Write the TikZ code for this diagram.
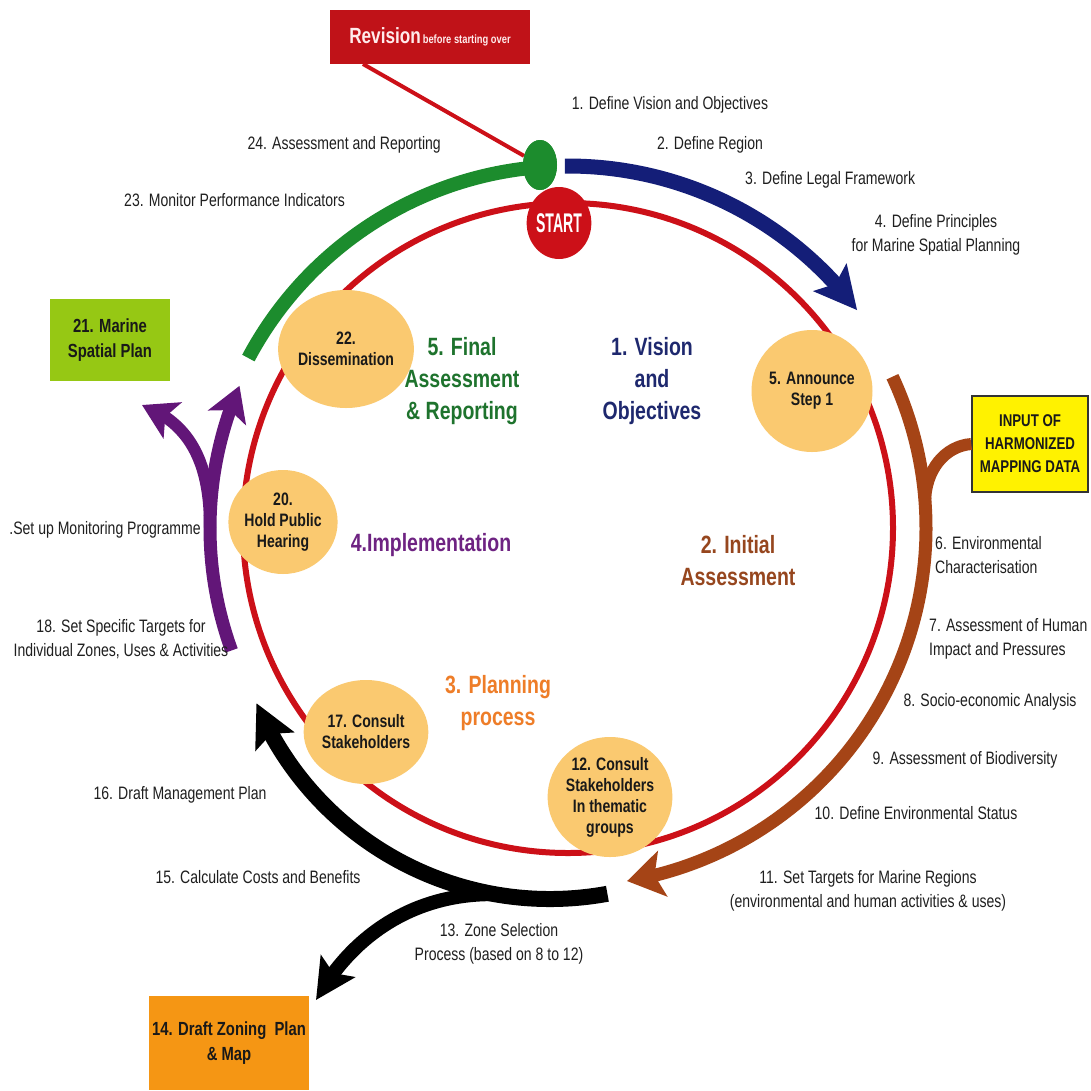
\documentclass[tikz,border=0pt]{standalone}
\usepackage{fontspec}
\setmainfont{Liberation Sans}
\newfontfamily\nar[FakeStretch=0.78]{Liberation Sans}
\usetikzlibrary{shapes.geometric,arrows.meta,bending}
\definecolor{ringred}{RGB}{204,16,24}
\definecolor{revred}{RGB}{192,18,24}
\definecolor{navy}{RGB}{20,30,120}
\definecolor{arcgreen}{RGB}{28,140,45}
\definecolor{brownarc}{RGB}{165,68,22}
\definecolor{purp}{RGB}{98,22,120}
\definecolor{bub}{RGB}{250,201,112}
\definecolor{boxgreen}{RGB}{150,200,20}
\definecolor{boxyellow}{RGB}{255,242,0}
\definecolor{boxorange}{RGB}{245,150,20}
\definecolor{hnavy}{RGB}{30,40,110}
\definecolor{hgreen}{RGB}{30,115,45}
\definecolor{hbrown}{RGB}{150,70,30}
\definecolor{hpurple}{RGB}{110,35,130}
\definecolor{horange}{RGB}{238,125,40}
\begin{document}
\begin{tikzpicture}[x=1pt,y=-1pt,
  lab/.style={font=\nar\fontsize{18}{24}\selectfont, text=black!88, align=center, inner sep=0pt},
  headline/.style={font=\nar\bfseries\fontsize{25}{32}\selectfont, align=center, inner sep=0pt},
  bubble/.style={ellipse, fill=bub, minimum width=110pt, minimum height=116pt, inner sep=0pt, align=center, font=\nar\bfseries\fontsize{18}{21}\selectfont, text=black!90},
  tagbox/.style={rectangle, inner sep=0pt, align=center, font=\nar\bfseries\fontsize{19}{25}\selectfont, text=black!90},
  ring/.style={ringred, line width=6pt},
  bigtip/.style={-{Stealth[length=42pt,width=42pt,inset=8pt]}},
  midtip/.style={-{Stealth[length=34pt,width=40pt,inset=8pt]}},
]
\fill[white] (0,0) rectangle (1091,1090);
\useasboundingbox (0,0) rectangle (1091,1090);
\coordinate (C) at (568,528);
\coordinate (K) at (550,581);

% boxes that connectors start from
\node[tagbox, fill=boxyellow, draw=black!80, line width=1.5pt, minimum width=116pt, minimum height=96pt, font=\nar\bfseries\fontsize{17}{23}\selectfont] (inp) at (1030,444) {INPUT OF\\HARMONIZED\\MAPPING DATA};
\node[tagbox, fill=revred, minimum width=200pt, minimum height=54pt, text=white!92!red] (rev) at (430,37)
  {{\fontsize{22}{26}\selectfont\bfseries Revision}{\nar\fontsize{12}{14}\selectfont\,before starting over}};
\node[tagbox, fill=boxgreen, minimum width=120pt, minimum height=82pt] (msp) at (110,340) {21. Marine\\Spatial Plan};
\node[tagbox, fill=boxorange, minimum width=160pt, minimum height=94pt] (dzp) at (229,1043) {14. Draft Zoning \ Plan\\\& Map};

% ring
\draw[ring] (C) circle[radius=325];

% blue arc
\draw[navy, line width=15pt, bigtip] (C) ++(-90.5:362) arc[start angle=-90.5, end angle=-37, radius=362];
% green arc
\draw[arcgreen, line width=14pt] (C) ++(-96:362) arc[start angle=-96, end angle=-152, radius=362];
% brown arc and branch
\draw[brownarc, line width=13pt, -{Stealth[length=36pt,width=46pt,inset=8pt]}] (C) ++(-25:358) arc[start angle=-25, end angle=80.5, radius=358];
\path (C) ++(-4:358) coordinate (bj);
\draw[brownarc, line width=12pt] (inp.west) .. controls (945,446) and (925,470) .. (bj);
% black arc and branch
\draw[black, line width=16pt, bigtip] (K) ++(79.6:318) arc[start angle=79.6, end angle=157.4, radius=318];
\path (K) ++(100:318) coordinate (kj);
\coordinate (dztip) at (316,1000);
\draw[black, line width=14pt, -{Stealth[length=40pt,width=40pt,inset=8pt]}] (kj) .. controls (420,893) and (355,930) .. (dztip);
% purple arc and branch
\draw[purp, line width=13pt, midtip] (C) ++(160:358) arc[start angle=160, end angle=203.4, radius=358];
\path (C) ++(180:358) coordinate (pj);
\coordinate (ptip) at (142,405);
\draw[purp, line width=12pt, midtip] (pj) .. controls (210,470) and (195,425) .. (ptip);

% green dot and revision connector
\node[ellipse, fill=arcgreen, minimum width=34pt, minimum height=50pt, inner sep=0pt] (gdot) at (540,165) {};
\coordinate (revfoot) at (363,64);
\draw[ringred, line width=4pt] (revfoot) -- (gdot);
\node[ellipse, fill=arcgreen, minimum width=34pt, minimum height=50pt, inner sep=0pt] at (gdot) {};

% start
\node[ellipse, fill=ringred, minimum width=52pt, minimum height=72pt, inner sep=0pt, text=white, font=\nar\bfseries\fontsize{18}{20}\selectfont] (start) at (559,223) {\scalebox{1}[1.5]{START}};

% bubbles
\node[bubble, minimum width=107pt, minimum height=118pt] (b22) at (346,349) {22.\\Dissemination};
\node[bubble, minimum width=110pt, minimum height=122pt] (b5) at (812,391) {5. Announce\\Step 1};
\node[bubble, minimum width=108pt, minimum height=104pt] (b20) at (283,522) {20.\\Hold Public\\Hearing};
\node[bubble, minimum width=110pt, minimum height=104pt] (b17) at (366,732) {17. Consult\\Stakeholders};
\node[bubble, minimum width=110pt, minimum height=120pt] (b12) at (610,797) {12. Consult\\Stakeholders\\In thematic\\groups};

% phase headlines
\node[headline, text=hnavy] (h1) at (652,381) {1. Vision\\and\\Objectives};
\node[headline, text=hbrown] (h2) at (738,561) {2. Initial\\Assessment};
\node[headline, text=horange] (h3) at (498,703) {3. Planning\\process};
\node[headline, text=hpurple] (h4) at (431,545) {4.Implementation};
\node[headline, text=hgreen] (h5) at (462,381) {5. Final\\Assessment\\\& Reporting};

% step labels
\node[lab] (l1) at (670,105) {1. Define Vision and Objectives};
\node[lab] (l2) at (710,145) {2. Define Region};
\node[lab, anchor=west] (l3) at (745,180) {3. Define Legal Framework};
\node[lab] (l4) at (936,235) {4. Define Principles\\for Marine Spatial Planning};
\node[lab, align=left, anchor=west] (l6) at (935,555) {6. Environmental\\Characterisation};
\node[lab, align=left, anchor=west] (l7) at (929,639) {7. Assessment of Human\\Impact and Pressures};
\node[lab] (l8) at (990,702) {8. Socio-economic Analysis};
\node[lab] (l9) at (965,760) {9. Assessment of Biodiversity};
\node[lab] (l10) at (916,813) {10. Define Environmental Status};
\node[lab] (l11) at (868,891) {11. Set Targets for Marine Regions\\(environmental and human activities \& uses)};
\node[lab] (l13) at (499,944) {13. Zone Selection\\Process (based on 8 to 12)};
\node[lab] (l15) at (258,877) {15. Calculate Costs and Benefits};
\node[lab] (l16) at (180,795) {16. Draft Management Plan};
\node[lab] (l18) at (121,639) {18. Set Specific Targets for\\Individual Zones, Uses \& Activities};
\node[lab] (l19) at (105,530) {.Set up Monitoring Programme};
\node[lab, anchor=east] (l23) at (345,200) {23. Monitor Performance Indicators};
\node[lab, anchor=east] (l24) at (441,145) {24. Assessment and Reporting};
\end{tikzpicture}
\end{document}
